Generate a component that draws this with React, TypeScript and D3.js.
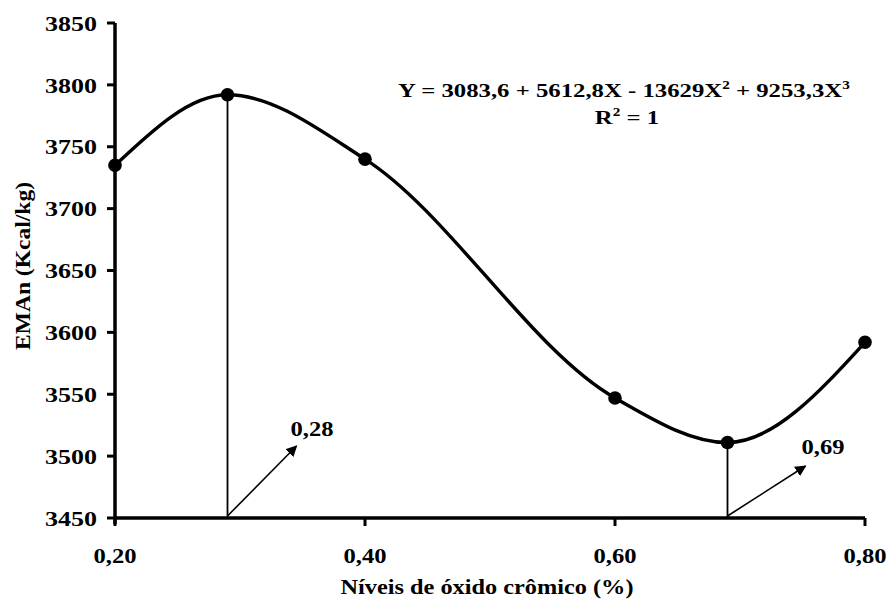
import * as d3 from "d3";

const levels = [0.2, 0.29, 0.4, 0.6, 0.69, 0.8];
const eman = [3735, 3792, 3740, 3547, 3511, 3592];
const xTicks = [0.2, 0.4, 0.6, 0.8];
const yTicks = [3450, 3500, 3550, 3600, 3650, 3700, 3750, 3800, 3850];
const markers = [
  { x: 0.29, label: "0,28", dx: 69, dy: -72, lx: 63, ly: -82 },
  { x: 0.69, label: "0,69", dx: 78, dy: -52, lx: 74, ly: -64 },
];

const W = 890;
const H = 606;
const font = "'Liberation Serif', 'Times New Roman', serif";

const Chart = () => {
  const x = d3.scaleLinear().domain([0.2, 0.8]).range([115, 865]);
  const y = d3.scaleLinear().domain([3450, 3850]).range([518, 23]);
  const pts = levels.map((l, i) => ({ l, v: eman[i] }));
  const line = d3
    .line<{ l: number; v: number }>()
    .x((d) => x(d.l))
    .y((d) => y(d.v))
    .curve(d3.curveMonotoneX);
  const fmt = (v: number) => v.toFixed(2).replace(".", ",");

  return (
    <svg width={W} height={H} style={{ display: "block", background: "#fff" }}>
      <defs>
        <marker id="arr" viewBox="0 0 10 10" refX="9" refY="5" markerWidth="7" markerHeight="7" orient="auto">
          <path d="M0,0 L10,5 L0,10 z" fill="#000" />
        </marker>
      </defs>

      {/* axes */}
      <line x1={115} x2={115} y1={y(3850)} y2={y(3450) + 6} stroke="#000" strokeWidth={3.5} />
      <line x1={115} x2={x(0.8)} y1={y(3450)} y2={y(3450)} stroke="#000" strokeWidth={3.5} />
      {yTicks.map((t) => (
        <g key={t}>
          <line x1={107} x2={115} y1={y(t)} y2={y(t)} stroke="#000" strokeWidth={3} />
          <text
            x={97}
            y={y(t)}
            dy="0.35em"
            textAnchor="end"
            fontFamily={font}
            fontWeight="bold"
            fontSize={22}
            textLength={52}
            lengthAdjust="spacingAndGlyphs"
          >
            {t}
          </text>
        </g>
      ))}
      {xTicks.map((t) => (
        <g key={t}>
          <line x1={x(t)} x2={x(t)} y1={y(3450)} y2={y(3450) + 8} stroke="#000" strokeWidth={3} />
          <text
            x={x(t)}
            y={563}
            textAnchor="middle"
            fontFamily={font}
            fontWeight="bold"
            fontSize={22}
            textLength={43}
            lengthAdjust="spacingAndGlyphs"
          >
            {fmt(t)}
          </text>
        </g>
      ))}

      {/* axis titles */}
      <text
        x={487}
        y={594}
        textAnchor="middle"
        fontFamily={font}
        fontWeight="bold"
        fontSize={22}
        textLength={293}
        lengthAdjust="spacingAndGlyphs"
      >
        Níveis de óxido crômico (%)
      </text>
      <text
        transform="translate(30,266) rotate(-90)"
        textAnchor="middle"
        fontFamily={font}
        fontWeight="bold"
        fontSize={22}
        textLength={168}
        lengthAdjust="spacingAndGlyphs"
      >
        EMAn (Kcal/kg)
      </text>

      {/* drop lines and arrows */}
      {markers.map((m) => {
        const i = levels.indexOf(m.x);
        const px = x(m.x);
        const base = y(3450);
        return (
          <g key={m.label}>
            <line x1={px} x2={px} y1={y(eman[i])} y2={base} stroke="#000" strokeWidth={1.8} />
            <line
              x1={px}
              y1={base - 2}
              x2={px + m.dx}
              y2={base + m.dy}
              stroke="#000"
              strokeWidth={1.6}
              markerEnd="url(#arr)"
            />
            <text
              x={px + m.lx}
              y={base + m.ly}
              fontFamily={font}
              fontWeight="bold"
              fontSize={21}
              textLength={43}
              lengthAdjust="spacingAndGlyphs"
            >
              {m.label}
            </text>
          </g>
        );
      })}

      {/* curve and points */}
      <path d={line(pts) ?? ""} fill="none" stroke="#000" strokeWidth={3.4} />
      {pts.map((d, i) => (
        <circle key={i} cx={x(d.l)} cy={y(d.v)} r={6.8} fill="#000" />
      ))}

      {/* equation */}
      <g transform="translate(398,97) scale(1.27,1)">
        <text x={0} y={0} fontFamily={font} fontWeight="bold" fontSize={19.5}>
          <tspan>Y =  3083,6 + 5612,8X - 13629X</tspan>
          <tspan dy={-8} fontSize={12}>2</tspan>
          <tspan dy={8}> + 9253,3X</tspan>
          <tspan dy={-8} fontSize={12}>3</tspan>
        </text>
      </g>
      <g transform="translate(627,124) scale(1.27,1)">
        <text x={0} y={0} textAnchor="middle" fontFamily={font} fontWeight="bold" fontSize={19.5}>
          <tspan>R</tspan>
          <tspan dy={-8} fontSize={12}>2</tspan>
          <tspan dy={8}> = 1</tspan>
        </text>
      </g>
    </svg>
  );
};

export default function App() {
  return (
    <div style={{ position: "absolute", left: 0, top: 0 }}>
      <Chart />
    </div>
  );
}
